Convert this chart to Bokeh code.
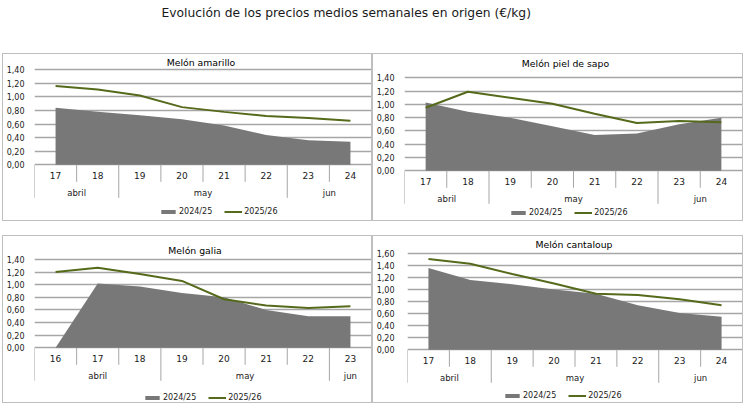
from bokeh.plotting import figure
from bokeh.models import (FactorRange, Range1d, FixedTicker, CustomJSTickFormatter,
                          Legend, LegendItem, Spacer)
from bokeh.layouts import column, row
from bokeh.core.properties import value
from bokeh.embed import file_html
from bokeh.resources import INLINE

# ---------------- data ----------------
MAIN_TITLE = "Evolución de los precios medios semanales en origen (€/kg)"
series_names = ["2024/25", "2025/26"]

weeks_std = ["17", "18", "19", "20", "21", "22", "23", "24"]
months_std = ["abril", "abril", "may", "may", "may", "may", "jun", "jun"]
weeks_galia = ["16", "17", "18", "19", "20", "21", "22", "23"]
months_galia = ["abril", "abril", "abril", "may", "may", "may", "may", "jun"]

amarillo_2425 = [0.84, 0.78, 0.73, 0.67, 0.58, 0.44, 0.36, 0.34]
amarillo_2526 = [1.16, 1.11, 1.02, 0.85, 0.78, 0.72, 0.69, 0.65]
piel_2425 = [1.03, 0.89, 0.80, 0.67, 0.54, 0.56, 0.70, 0.80]
piel_2526 = [0.95, 1.19, 1.10, 1.01, 0.86, 0.72, 0.75, 0.73]
galia_2425 = [0.00, 1.02, 0.97, 0.87, 0.80, 0.60, 0.50, 0.50]
galia_2526 = [1.20, 1.27, 1.17, 1.06, 0.77, 0.67, 0.63, 0.66]
cantaloup_2425 = [1.36, 1.16, 1.09, 1.00, 0.93, 0.74, 0.61, 0.55]
cantaloup_2526 = [1.51, 1.43, 1.26, 1.10, 0.93, 0.91, 0.84, 0.74]

# ---------------- style ----------------
FONT = "DejaVu Sans"
AREA_COLOR = "#787878"
LINE_COLOR = "#566a1c"
GRID_COLOR = "#a6a6a6"
SEP_COLOR = "#a6a6a6"
TEXT_COLOR = "#1a1a1a"
BOX_COLOR = "#bfbfbf"
H = 168


def make_panel(title, weeks, months, s_old, s_new, top_val, width, cfg):
    n = len(weeks)
    ppu = (cfg["zero"] - cfg["top"]) / top_val
    y_end = top_val + cfg["top"] / ppu
    y_start = -(H - cfg["zero"]) / ppu

    p = figure(width=width, height=H,
               x_range=FactorRange(*weeks, range_padding=0, factor_padding=0),
               y_range=Range1d(y_start, y_end),
               toolbar_location=None, output_backend="svg", tools="",
               x_axis_location=None, title=None,
               min_border_left=cfg["left"], min_border_right=2,
               min_border_top=0, min_border_bottom=0)
    p.styles = {"border": "1px solid " + BOX_COLOR}
    p.outline_line_color = None
    p.background_fill_color = "white"
    p.border_fill_color = "white"
    for g in p.xgrid:
        g.visible = False

    nt = int(round(top_val / 0.2)) + 1
    p.yaxis.ticker = FixedTicker(ticks=[round(i * 0.2, 1) for i in range(nt)])
    p.yaxis.formatter = CustomJSTickFormatter(code="return tick.toFixed(2).replace('.', ',')")
    p.yaxis.axis_line_color = None
    p.yaxis.major_tick_line_color = None
    p.yaxis.minor_tick_line_color = None
    p.yaxis.major_label_standoff = cfg["stand"]
    p.yaxis.major_label_text_font = FONT
    p.yaxis.major_label_text_font_size = "8px"
    p.yaxis.major_label_text_color = TEXT_COLOR
    p.ygrid.grid_line_color = GRID_COLOR
    p.ygrid.grid_line_width = 1.5

    # series
    r_area = p.varea(x=weeks, y1=[0] * n, y2=s_old, fill_color=AREA_COLOR)
    r_line = p.line(x=weeks, y=s_new, line_color=LINE_COLOR, line_width=2)

    # category axis (two levels) drawn inside the frame
    y_lab = -11 / ppu
    y_mon = -28 / ppu
    y_short = -17 / ppu
    y_long = -33 / ppu
    sep_x, sep_y = [], []
    for i in range(n):
        sep_x.append(i)
        sep_y.append(y_long if (i == 0 or months[i] != months[i - 1]) else y_short)
    p.segment(x0=sep_x, y0=[0] * n, x1=sep_x, y1=sep_y, line_color=SEP_COLOR, line_width=1)
    p.text(x=weeks, y=[y_lab] * n, text=weeks, text_align="center", text_baseline="middle",
           text_font=value(FONT), text_font_size="9px", text_color=TEXT_COLOR)
    groups = []
    start = 0
    for i in range(1, n + 1):
        if i == n or months[i] != months[start]:
            groups.append((months[start], (start + i) / 2))
            start = i
    p.text(x=[g[1] for g in groups], y=[y_mon] * len(groups), text=[g[0] for g in groups],
           text_align="center", text_baseline="middle",
           text_font=value(FONT), text_font_size="8.5px", text_color=TEXT_COLOR)

    # panel title
    p.text(x=[n / 2], y=[(cfg["zero"] - cfg["title"]) / ppu], text=[title], x_offset=cfg["tx"],
           text_align="center", text_baseline="middle",
           text_font=value(FONT), text_font_size="9.3px", text_color="#000000")

    legend = Legend(items=[LegendItem(label=series_names[0], renderers=[r_area]),
                           LegendItem(label=series_names[1], renderers=[r_line])],
                    location=(cfg["lx"], H - cfg["leg"] - 5), orientation="horizontal",
                    border_line_color=None, background_fill_alpha=0,
                    padding=0, margin=0, spacing=12, label_standoff=2,
                    glyph_width=18, glyph_height=5, label_height=10,
                    label_text_font=FONT, label_text_font_size="8px",
                    label_text_color=TEXT_COLOR)
    p.add_layout(legend)
    return p


W_L, W_R = 370, 371
p1 = make_panel("Melón amarillo", weeks_std, months_std, amarillo_2425, amarillo_2526, 1.4, W_L,
                dict(top=15.3, zero=110.3, leg=157.7, title=8, left=25, stand=4, tx=-2, lx=125))
p2 = make_panel("Melón piel de sapo", weeks_std, months_std, piel_2425, piel_2526, 1.4, W_R,
                dict(top=23.3, zero=116.3, leg=158.7, title=9, left=26, stand=4, tx=-8, lx=105))
p3 = make_panel("Melón galia", weeks_galia, months_galia, galia_2425, galia_2526, 1.4, W_L,
                dict(top=23, zero=111.3, leg=161, title=13.7, left=25, stand=4, tx=-8, lx=109))
p4 = make_panel("Melón cantaloup", weeks_std, months_std, cantaloup_2425, cantaloup_2526, 1.6, W_R,
                dict(top=17, zero=113.3, leg=159.7, title=8, left=30, stand=7, tx=-1, lx=96))

tf = figure(width=744, height=53, toolbar_location=None, output_backend="svg", tools="",
            title=MAIN_TITLE, x_axis_location=None, y_axis_location=None,
            min_border=0)
tf.title.text_font = FONT
tf.title.text_font_size = "12.3px"
tf.title.text_font_style = "normal"
tf.title.text_color = TEXT_COLOR
tf.title.align = "left"
tf.title.offset = 161
tf.title.vertical_align = "top"
tf.outline_line_color = None
tf.grid.visible = False

layout = column(tf,
                row(Spacer(width=2, height=H), p1, p2, spacing=0),
                Spacer(width=744, height=14),
                row(Spacer(width=2, height=H), p3, p4, spacing=0),
                spacing=0)

open("out.html", "w").write(file_html(layout, INLINE))
